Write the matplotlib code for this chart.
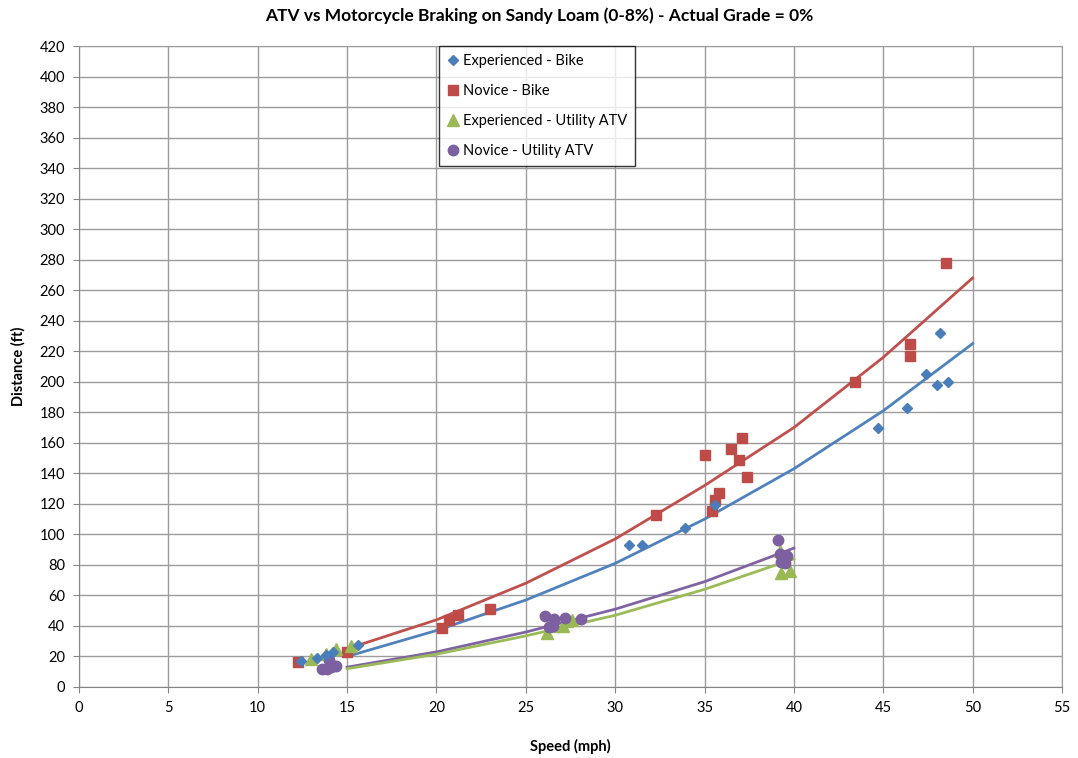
import matplotlib.pyplot as plt

plt.rcParams['font.family'] = ['Lato', 'DejaVu Sans']

# -----------------------------
# data
# -----------------------------
exp_bike_speed = [12.4, 13.3, 13.8, 14.2, 15.6, 30.8, 31.5, 33.9, 35.6,
                  44.7, 46.3, 47.4, 48.0, 48.2, 48.6]
exp_bike_dist = [17, 19, 21, 23, 27.5, 93, 93, 104, 119,
                 170, 183, 205, 198, 232, 200]

nov_bike_speed = [12.25, 15.0, 20.3, 20.7, 21.2, 23.0, 32.3, 35.0, 35.4, 35.6,
                  35.8, 36.5, 36.9, 37.1, 37.4, 43.4, 46.5, 46.5, 48.5]
nov_bike_dist = [16.5, 23, 38.5, 44, 47, 51, 113, 152, 115, 122.5,
                 127, 156, 149, 163, 137.5, 200, 225, 217, 278]

exp_atv_speed = [13.0, 13.8, 14.4, 15.2, 26.2, 26.6, 27.1, 27.3, 27.6,
                 39.2, 39.3, 39.4, 39.8]
exp_atv_dist = [18.5, 21.5, 25, 27, 35.5, 40, 40, 43, 44,
                89, 75, 85, 76]

nov_atv_speed = [13.6, 13.9, 14.0, 14.1, 14.4, 26.1, 26.3, 26.5, 26.6, 27.2,
                 28.1, 39.1, 39.2, 39.4, 39.5, 39.6, 39.3]
nov_atv_dist = [11.5, 11.5, 18, 13, 14, 46.5, 39.5, 40, 44.5, 45,
                44.5, 96, 87, 84, 81, 86, 82]

# trendline values (every 5 mph)
trend_bike_speed = [15, 20, 25, 30, 35, 40, 45, 50]
trend_exp_bike = [20, 37, 57, 81, 110, 143, 181, 225]
trend_nov_bike = [25, 44, 68, 97, 132, 170, 216, 268]
trend_atv_speed = [15, 20, 25, 30, 35, 40]
trend_exp_atv = [12, 21.5, 33.5, 47, 64, 84]
trend_nov_atv = [13, 23, 36, 51, 69, 91]

blue = "#4A7EBB"
red = "#BE4B48"
green = "#98B954"
purple = "#7D60A0"

# -----------------------------
# figure
# -----------------------------
fig = plt.figure(figsize=(10.78, 7.58), dpi=100)
ax = fig.add_axes([79 / 1078, 71 / 758, 983 / 1078, 641 / 758])

ax.plot(trend_bike_speed, trend_nov_bike, color="#C0504D", lw=2.0, zorder=2)
ax.plot(trend_bike_speed, trend_exp_bike, color="#4F81BD", lw=2.0, zorder=2)
ax.plot(trend_atv_speed, trend_nov_atv, color="#8064A2", lw=2.0, zorder=2)
ax.plot(trend_atv_speed, trend_exp_atv, color="#9BBB59", lw=2.0, zorder=2)

ax.plot(exp_bike_speed, exp_bike_dist, ls="none", marker="D", ms=5.5,
        color=blue, label="Experienced - Bike", zorder=4)
ax.plot(nov_bike_speed, nov_bike_dist, ls="none", marker="s", ms=7.5,
        color=red, label="Novice - Bike", zorder=3)
ax.plot(exp_atv_speed, exp_atv_dist, ls="none", marker="^", ms=8.5,
        color=green, label="Experienced - Utility ATV", zorder=3)
ax.plot(nov_atv_speed, nov_atv_dist, ls="none", marker="o", ms=7.5,
        color=purple, label="Novice - Utility ATV", zorder=3)

ax.set_xlim(0, 55)
ax.set_ylim(0, 420)
ax.set_xticks(range(0, 56, 5))
ax.set_yticks(range(0, 421, 20))
ax.grid(True, color="#9C9C9C", lw=1.0)
ax.set_axisbelow(True)
for s in ax.spines.values():
    s.set_color("#9C9C9C")
ax.spines["left"].set_color("#868686")
ax.spines["bottom"].set_color("#868686")
ax.tick_params(labelsize=10.5, length=4, color="#868686", pad=6)

ax.set_xlabel("Speed (mph)", fontsize=10.5, fontweight="bold", labelpad=17)
ax.set_ylabel("Distance (ft)", fontsize=10.5, fontweight="bold", labelpad=10)
fig.suptitle("ATV vs Motorcycle Braking on Sandy Loam (0-8%) - Actual Grade = 0%",
             fontsize=12.5, fontweight="bold", x=539 / 1078, y=0.99)

leg = ax.legend(loc="upper left", bbox_to_anchor=(0.366, 1.0), fontsize=10.5,
                frameon=True, fancybox=False, edgecolor="black",
                handlelength=0.8, handletextpad=0.3, labelspacing=1.1,
                borderpad=0.55, borderaxespad=0.0)
leg.get_frame().set_linewidth(1.0)

fig.savefig("out.png", dpi=100)
